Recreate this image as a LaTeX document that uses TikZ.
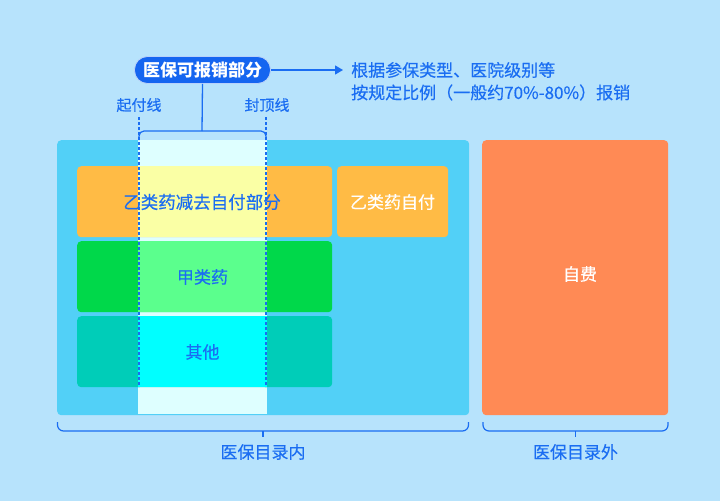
\documentclass[tikz,border=0pt]{standalone}
\usepackage{fontspec}
\setmainfont{Noto Sans CJK SC}
\newfontfamily\cjk[FakeBold=0.4]{Noto Sans CJK SC}
\newfontfamily\cjkb{Noto Sans CJK SC}
\usetikzlibrary{arrows.meta}
\definecolor{bg}{HTML}{B7E3FC}
\definecolor{inbox}{HTML}{52D0F7}
\definecolor{orow}{HTML}{FFBB45}
\definecolor{grow}{HTML}{00D84A}
\definecolor{trow}{HTML}{00CDB8}
\definecolor{selfpay}{HTML}{FF8A55}
\definecolor{txtblue}{HTML}{1A6DF2}
\definecolor{pillblue}{HTML}{1565F0}
\definecolor{colbg}{HTML}{DEFFFF}
\definecolor{ycol}{HTML}{FAFFA5}
\definecolor{gcol}{HTML}{5BFF8D}
\definecolor{ccol}{HTML}{00FFFF}
\tikzset{
  box/.style={draw=none, rounded corners=4pt, inner sep=0pt, anchor=north west},
  lbl/.style={font=\cjk\fontsize{17}{20}\selectfont, text=txtblue, inner sep=0pt},
  wlbl/.style={font=\cjk\fontsize{17}{20}\selectfont, text=white, inner sep=0pt},
  small/.style={font=\cjk\fontsize{15}{18}\selectfont, text=txtblue, inner sep=0pt},
  limit/.style={draw=txtblue, line width=2pt, dash pattern=on 2.5pt off 2.5pt},
  brace/.style={draw=txtblue, line width=1.2pt, rounded corners=6pt},
  conn/.style={draw=txtblue, line width=1.3pt}
}
\begin{document}
\begin{tikzpicture}[x=1pt,y=-1pt]
\useasboundingbox (0,0) rectangle (720,501);
\fill[bg] (0,0) rectangle (720,501);
% big boxes
\node[box, fill=inbox, minimum width=412pt, minimum height=275pt] (inner) at (57,140) {};
\node[box, fill=selfpay, minimum width=186pt, minimum height=275pt] (outer) at (482,140) {};
% highlight column background
\fill[colbg] (138,140) rectangle (267,414);
% rows
\node[box, fill=orow, minimum width=255pt, minimum height=71pt] (yi) at (77,166) {};
\node[box, fill=grow, minimum width=255pt, minimum height=71pt] (jia) at (77,241) {};
\node[box, fill=trow, minimum width=255pt, minimum height=71pt] (qt) at (77,316) {};
\node[box, fill=orow, minimum width=111pt, minimum height=71pt] (yiself) at (337,166) {};
% column highlight parts
\fill[ycol] (138,166) rectangle (267,237);
\fill[gcol] (138,241) rectangle (267,312);
\fill[ccol] (138,316) rectangle (267,387);
% row labels
\node[lbl, font=\cjk\fontsize{17.5}{20}\selectfont] at (202,202) {乙类药减去自付部分};
\node[wlbl] at (392.5,202) {乙类药自付};
\node[lbl] at (202.5,277) {甲类药};
\node[lbl] at (202.5,352) {其他};
\node[wlbl] at (580,274) {自费};
% limit lines
\coordinate (ls) at (139,117);
\coordinate (le) at (139,387);
\coordinate (rs) at (266,117);
\coordinate (re) at (266,387);
\draw[limit] (ls) -- (le);
\draw[limit] (rs) -- (re);
\coordinate (ctop) at (202,131);
\draw[conn, line width=1.2pt, rounded corners=5pt] (139,140) -- (139,131) -- (266,131) -- (266,140);
\node[small] (qf) at (139,105) {起付线};
\node[small] (fd) at (267,105) {封顶线};
% pill
\node[fill=pillblue, draw=white!70!pillblue, line width=0.8pt, rounded corners=13pt, minimum width=136pt, minimum height=27pt, inner sep=0pt,
      font=\cjkb\bfseries\fontsize{17}{20}\selectfont, text=white] (pill) at (202.5,70) {医保可报销部分};
\draw[conn] (pill.south) -- (ctop);
\coordinate (atip) at (343,70);
\draw[conn, -{Triangle[length=8pt,width=9pt]}] (pill.east) -- (atip);
\node[lbl, anchor=west] (d1) at (351,70) {根据参保类型、医院级别等};
\node[lbl, anchor=west] (d2) at (351,92.5) {按规定比例（一般约70\%-80\%）报销};
% braces
\draw[brace] (57.5,422) -- (57.5,431) -- (468.5,431) -- (468.5,422);
\draw[conn, line width=1.2pt] (263,431) -- (263,436.5);
\node[lbl] (l1) at (263,452) {医保目录内};
\draw[brace] (483,422) -- (483,431) -- (668,431) -- (668,422);
\draw[conn, line width=1.2pt] (575.5,431) -- (575.5,436.5);
\node[lbl] (l2) at (575.5,452) {医保目录外};
\end{tikzpicture}
\end{document}
